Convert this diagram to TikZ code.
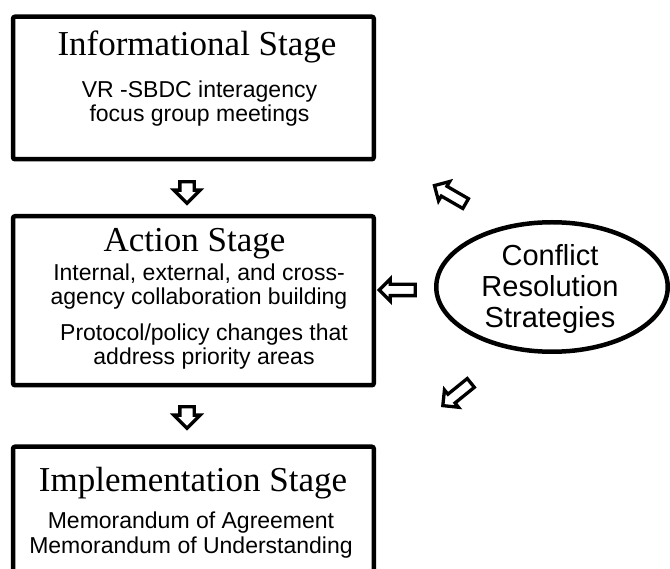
\documentclass[tikz,border=0pt]{standalone}
\usepackage{fontspec}
\setmainfont{Liberation Serif}
\setsansfont{Liberation Sans}
\usetikzlibrary{shapes.geometric,shapes.arrows,calc}

\newcommand\tightskip{\lineskiplimit=-50pt\relax}

\tikzset{
  stagebox/.style={draw, line width=4.5pt, rounded corners=2pt, minimum width=360.7pt, inner sep=0pt},
  stagetitle/.style={font=\fontsize{35}{35}\selectfont, anchor=base, inner sep=0pt},
  stagetext/.style={font=\sffamily\fontsize{23}{24}\selectfont\tightskip, align=center, anchor=base, inner sep=0pt},
  downarr/.style={single arrow, draw, line width=3.3pt, fill=white, rotate=-90, minimum height=21pt, single arrow head extend=6pt, inner sep=5.5pt},
  sidearr/.style={single arrow, draw, line width=3.3pt, fill=white, minimum height=36pt, single arrow head extend=5.5pt, inner sep=4pt}
}

\begin{document}
\begin{tikzpicture}[x=1pt,y=-1pt]
  \useasboundingbox (0,0) rectangle (670,569);
  \clip (0,0) rectangle (670,569);

  % Cajas de las etapas
  \node[stagebox, minimum height=142.5pt] (info) at (193.4,88) {};
  \node[stagebox, minimum height=169pt] (action) at (193.4,300.75) {};
  \node[stagebox, minimum height=160pt] (impl) at (193.4,526.75) {};

  % Textos (base = linea de base de la ultima linea)
  \node[stagetitle] (infotitle) at (197,56) {Informational Stage};
  \node[stagetext] (infotext) at (199.5,121.5) {VR -SBDC interagency\\focus group meetings};

  \node[stagetitle] (actiontitle) at (194.5,252) {Action Stage};
  \node[stagetext] (actiontext) at (199,305) {Internal, external, and cross-\\agency collaboration building};
  \node[stagetext] (actionpol) at (204,365) {Protocol/policy changes that\\address priority areas};

  \node[stagetitle] (impltitle) at (193,492) {Implementation Stage};
  \node[stagetext, font=\sffamily\fontsize{23}{25}\selectfont] (impltext) at (191,553) {Memorandum of Agreement\\Memorandum of Understanding};

  % Elipse
  \node[ellipse, draw, line width=4.5pt, minimum width=231.5pt, minimum height=129.5pt] (conflict) at (552,287) {};
  \node[font=\sffamily\fontsize{29}{31}\selectfont, align=center, anchor=base, inner sep=0pt] (conflicttext) at (550,328) {Conflict\\Resolution\\Strategies};

  % Flechas
  \node[downarr] (arr1) at (187,189) {};
  \node[downarr] (arr2) at (187,414) {};
  \node[sidearr, rotate=180] (arrleft) at (400,290) {};
  \node[sidearr, rotate=150] (arrup) at (452.5,196) {};
  \node[sidearr, rotate=219] (arrdown) at (459,392.5) {};
\end{tikzpicture}
\end{document}
